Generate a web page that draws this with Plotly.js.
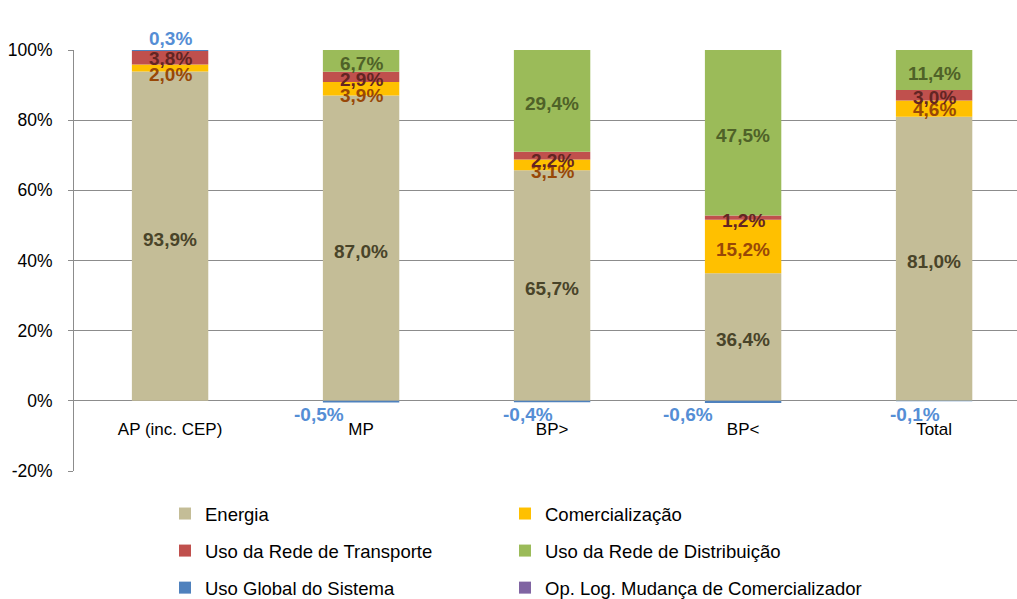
<!DOCTYPE html>
<html>
<head>
<meta charset="utf-8">
<script src="https://cdn.plot.ly/plotly-3.0.1.min.js"></script>
<style>html,body{margin:0;padding:0;background:#fff;}#chart{width:1017px;height:599px;}</style>
</head>
<body>
<div id="chart"></div>
<script>
// ---- data ----
const categories = ['AP (inc. CEP)', 'MP', 'BP>', 'BP<', 'Total'];
const energia = [93.9, 87.0, 65.7, 36.4, 81.0];
const comercializacao = [2.0, 3.9, 3.1, 15.2, 4.6];
const redeTransporte = [3.8, 2.9, 2.2, 1.2, 3.0];
const redeDistribuicao = [0, 6.7, 29.4, 47.5, 11.4];
const usoGlobal = [0.3, -0.5, -0.4, -0.6, -0.1];
const opLog = [0, 0.1, 0.1, 0.2, 0.04];
const seriesNames = ['Energia', 'Comercialização', 'Uso da Rede de Transporte',
  'Uso da Rede de Distribuição', 'Uso Global do Sistema', 'Op. Log. Mudança de Comercializador'];
const yTickVals = [-20, 0, 20, 40, 60, 80, 100];

// ---- styles ----
const FONT = 'Liberation Sans, Arial, sans-serif';
const barColors = ['#C4BD97', '#FFC000', '#C0504D', '#9BBB59', '#4F81BD', '#8064A2'];
const labelColors = ['#494429', '#984807', '#632523', '#4F6228', '#558ED5', '#8064A2'];
// legend columns: left column = legend, right column = legend2
const legendIds = ['legend', 'legend2', 'legend', 'legend2', 'legend', 'legend2'];
// manual label placement (as in the reference chart)
const centerLabelYShift = -3;
const comercLabelYShift = [-7, -7, -7, -3, -1];
const transpLabelYShift = [-1, -3, -5, -3, -2];
const negLabelXShift = [0, -42, -24, -55, -19];
const opLogLabelShown = [false, false, false, true, true];
const opLogLabelXShift = [0, 0, 0, 0, 47];

const series = [energia, comercializacao, redeTransporte, redeDistribuicao, usoGlobal, opLog];
const fmt = v => v.toFixed(1).replace('.', ',') + '%';

const traces = series.map((vals, k) => ({
  type: 'bar',
  name: seriesNames[k],
  x: categories,
  y: vals,
  marker: {color: barColors[k], line: {width: 0}},
  legend: legendIds[k],
  legendgroup: 'g' + k,
  hoverinfo: 'skip'
}));

// annotations computed from the data
const annotations = [];
categories.forEach((cat, i) => {
  let pos = 0;
  series.forEach((vals, k) => {
    const v = vals[i];
    const font = {family: FONT, size: 19, color: labelColors[k], weight: 'bold'};
    if (v >= 0) {
      const base = pos;
      pos += v;
      if (k <= 3) {
        if (v > 0) {
          let ys = centerLabelYShift;
          if (k === 1) ys = comercLabelYShift[i];
          if (k === 2) ys = transpLabelYShift[i];
          annotations.push({x: cat, y: base + v / 2, text: fmt(v), showarrow: false, font, yshift: ys});
        }
      } else if (k === 4) {
        if (v > 0) annotations.push({x: cat, y: pos, text: fmt(v), showarrow: false, font, yshift: 12});
      } else if (k === 5) {
        if (opLogLabelShown[i]) annotations.push({x: cat, y: pos, text: fmt(v), showarrow: false, font,
          yshift: i === 4 ? 15 : 10, xshift: opLogLabelXShift[i]});
      }
    } else {
      annotations.push({x: cat, y: 0, text: fmt(v), showarrow: false, font, yshift: -14, xshift: negLabelXShift[i]});
    }
  });
});

const legendBase = {
  orientation: 'v', xanchor: 'left', yanchor: 'top', y: -(495 - 471) / 421,
  tracegroupgap: 10,
  font: {family: FONT, size: 18.5, color: '#000'},
  bgcolor: 'rgba(0,0,0,0)', borderwidth: 0, traceorder: 'grouped'
};

const layout = {
  width: 1017, height: 599,
  margin: {l: 74, r: 0, t: 50, b: 128, pad: 0, autoexpand: false},
  paper_bgcolor: '#fff', plot_bgcolor: '#fff',
  barmode: 'relative', bargap: 0.6,
  font: {family: FONT, size: 17, color: '#000'},
  showlegend: true,
  xaxis: {
    type: 'category', range: [-0.503, 4.434],
    anchor: 'free', position: 20 / 120,
    showline: false, showgrid: false, zeroline: false, ticks: '',
    tickfont: {family: FONT, size: 17, color: '#000'},
    ticklabelstandoff: 16, fixedrange: true
  },
  yaxis: {
    range: [-20, 100], tickvals: yTickVals, ticktext: yTickVals.map(v => v + '%'),
    showgrid: true, gridcolor: '#8C8C8C', gridwidth: 1, zeroline: false,
    showline: true, linecolor: '#8C8C8C', linewidth: 1,
    ticks: 'outside', ticklen: 5, tickcolor: '#8C8C8C',
    tickfont: {family: FONT, size: 17.5, color: '#000'},
    ticklabelstandoff: 12, fixedrange: true
  },
  legend: Object.assign({}, legendBase, {x: (165 - 74) / 943}),
  legend2: Object.assign({}, legendBase, {x: (505 - 74) / 943}),
  annotations: annotations
};

Plotly.newPlot('chart', traces, layout, {displayModeBar: false, staticPlot: true});
</script>
</body>
</html>
